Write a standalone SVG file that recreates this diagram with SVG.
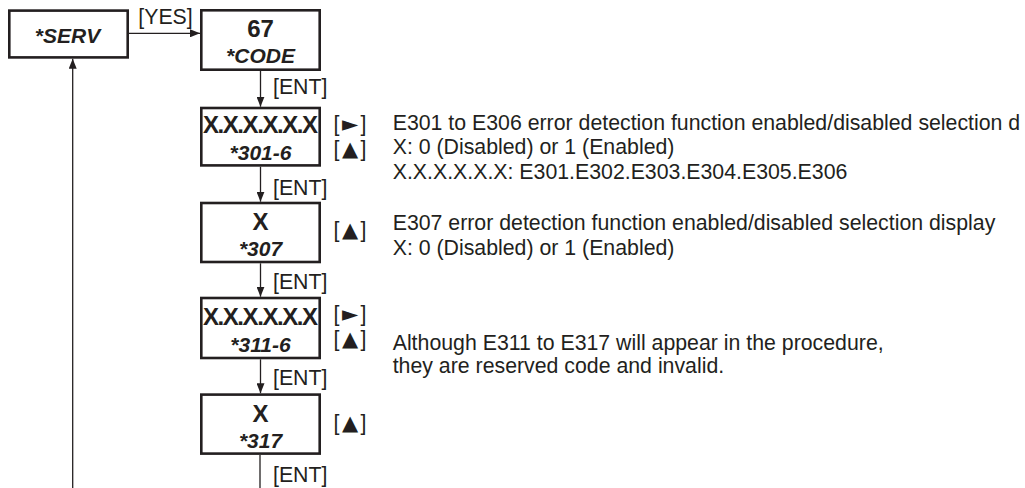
<svg xmlns="http://www.w3.org/2000/svg" width="1025" height="488" viewBox="0 0 1025 488">
<style>
.box{fill:#fff;stroke:#231f20;stroke-width:2.6}
.con{fill:none;stroke:#231f20;stroke-width:1.3}
text{font-family:"Liberation Sans",Arial,sans-serif;fill:#231f20}
.lbl{font-size:21.3px}
.sym{font-family:"DejaVu Sans",sans-serif;font-size:21px}
.big{font-size:24px;font-weight:bold;text-anchor:middle}
.sub{font-size:21px;font-weight:bold;font-style:italic;text-anchor:middle}
.note{font-size:21.3px}
</style>
<defs>
<marker id="ah" markerUnits="userSpaceOnUse" markerWidth="10" markerHeight="8" refX="10" refY="4" orient="auto">
<path d="M0,0 L10,4 L0,8 z" fill="#231f20"/>
</marker>
</defs>
<rect width="1025" height="488" fill="#fff"/>
<g id="connectors">
<line class="con" x1="129" y1="33.3" x2="200" y2="33.3" marker-end="url(#ah)"/>
<line class="con" x1="260.5" y1="71" x2="260.5" y2="106.7" marker-end="url(#ah)"/>
<line class="con" x1="260.5" y1="166.7" x2="260.5" y2="201.7" marker-end="url(#ah)"/>
<line class="con" x1="260.5" y1="263.3" x2="260.5" y2="296.7" marker-end="url(#ah)"/>
<line class="con" x1="260.5" y1="359.3" x2="260.5" y2="393.3" marker-end="url(#ah)"/>
<line class="con" x1="260" y1="455" x2="260" y2="492"/>
<line class="con" x1="72.7" y1="492" x2="72.7" y2="58.7" marker-end="url(#ah)"/>
<text class="lbl" x="138.3" y="24">[YES]</text>
<text class="lbl" x="273" y="94">[ENT]</text>
<text class="lbl" x="273" y="195">[ENT]</text>
<text class="lbl" x="273" y="289.3">[ENT]</text>
<text class="lbl" x="273" y="385">[ENT]</text>
<text class="lbl" x="273" y="481.7">[ENT]</text>
</g>
<g id="serv">
<rect class="box" x="9.3" y="10.6" width="118.4" height="46.8"/>
<text class="sub" x="67.5" y="42.7">*SERV</text>
</g>
<g id="code">
<rect class="box" x="201.3" y="10.3" width="118.4" height="59.4"/>
<text class="big" x="260.5" y="36.7">67</text>
<text class="sub" x="260.5" y="63.3">*CODE</text>
</g>
<g id="n301">
<rect class="box" x="201.3" y="108" width="118.4" height="57.4"/>
<text class="big" x="260.5" y="133.3" textLength="115" lengthAdjust="spacing">X.X.X.X.X.X</text>
<text class="sub" x="260.5" y="159.8">*301-6</text>
<text class="lbl" x="333.5" y="130.5">[<tspan class="sym" dx="2.5">►</tspan><tspan dx="2.5">]</tspan><tspan x="333.5" y="155.5">[</tspan><tspan class="sym" dx="2.5">▲</tspan><tspan dx="2.5">]</tspan></text>
</g>
<g id="n307">
<rect class="box" x="201.3" y="203" width="118.4" height="59"/>
<text class="big" x="260.5" y="230">X</text>
<text class="sub" x="260.5" y="256">*307</text>
<text class="lbl" x="333.5" y="237">[<tspan class="sym" dx="2.5">▲</tspan><tspan dx="2.5">]</tspan></text>
</g>
<g id="n311">
<rect class="box" x="201.3" y="298" width="118.4" height="60"/>
<text class="big" x="260.5" y="324.5" textLength="115" lengthAdjust="spacing">X.X.X.X.X.X</text>
<text class="sub" x="260.5" y="351.7">*311-6</text>
<text class="lbl" x="333.5" y="321">[<tspan class="sym" dx="2.5">►</tspan><tspan dx="2.5">]</tspan><tspan x="333.5" y="346">[</tspan><tspan class="sym" dx="2.5">▲</tspan><tspan dx="2.5">]</tspan></text>
</g>
<g id="n317">
<rect class="box" x="201.3" y="394.6" width="118.4" height="59"/>
<text class="big" x="260.5" y="421.7">X</text>
<text class="sub" x="260.5" y="448.3">*317</text>
<text class="lbl" x="333.5" y="430">[<tspan class="sym" dx="2.5">▲</tspan><tspan dx="2.5">]</tspan></text>
</g>
<g id="notes">
<text class="note" x="392.7" y="130">E301 to E306 error detection function enabled/disabled selection d</text>
<text class="note" x="392.7" y="154.3">X: 0 (Disabled) or 1 (Enabled)</text>
<text class="note" x="392.7" y="179.3">X.X.X.X.X.X: E301.E302.E303.E304.E305.E306</text>
<text class="note" x="392.7" y="230">E307 error detection function enabled/disabled selection display</text>
<text class="note" x="392.7" y="255">X: 0 (Disabled) or 1 (Enabled)</text>
<text class="note" x="392.7" y="350">Although E311 to E317 will appear in the procedure,</text>
<text class="note" x="392.7" y="373">they are reserved code and invalid.</text>
</g>
</svg>
